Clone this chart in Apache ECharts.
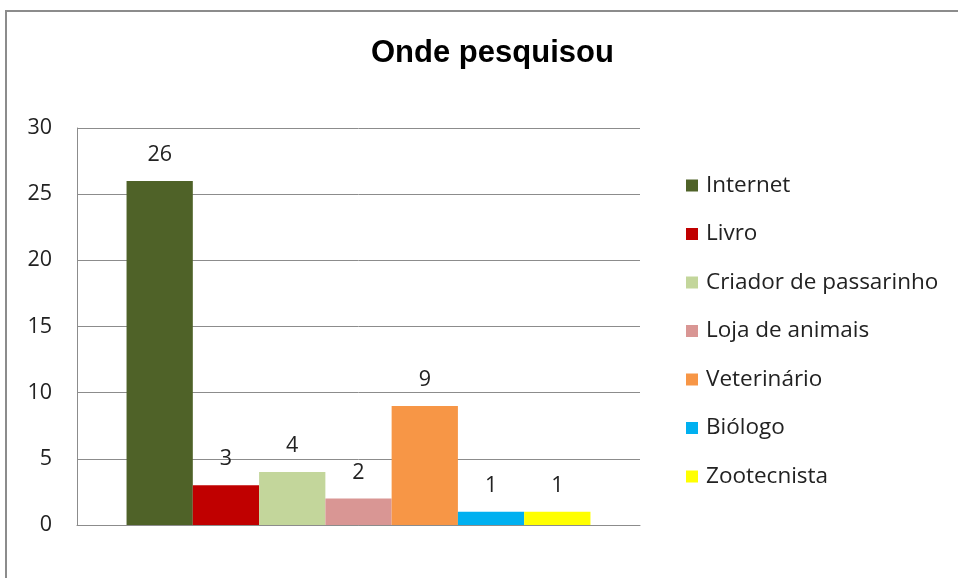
<!DOCTYPE html>
<html>
<head>
<meta charset="utf-8">
<script src="https://cdn.jsdelivr.net/npm/echarts@6/dist/echarts.min.js"></script>
<style>
  html, body { margin: 0; padding: 0; background: #fff; }
  #chart { width: 958px; height: 578px; }
</style>
</head>
<body>
<div id="chart"></div>
<script>
// data
const seriesNames = ['Internet', 'Livro', 'Criador de passarinho', 'Loja de animais', 'Veterinário', 'Biólogo', 'Zootecnista'];
const seriesValues = [26, 3, 4, 2, 9, 1, 1];
const seriesColors = ['#4F6228', '#C00000', '#C3D69B', '#D99694', '#F79646', '#00B0F0', '#FFFF00'];
const yTicks = [0, 5, 10, 15, 20, 25, 30];

const font = '"Open Sans", Lato, sans-serif';

let series = seriesNames.map((name, i) => ({
  name: name,
  type: 'bar',
  data: [seriesValues[i]],
  barGap: '0%',
  barCategoryGap: '17.6%',
  itemStyle: { color: seriesColors[i] },
  label: {
    show: true,
    position: 'top',
    distance: 15,
    color: '#222',
    fontFamily: font,
    fontSize: 21.5
  }
}));

let option = {
  animation: false,
  backgroundColor: '#fff',
  title: {
    text: 'Onde pesquisou',
    left: 366,
    top: 33,
    textStyle: { fontFamily: '"Liberation Sans", Arial, sans-serif', fontSize: 31, fontWeight: 'bold', color: '#000' }
  },
  graphic: [{
    type: 'rect',
    shape: { x: 6, y: 11, width: 1000, height: 600 },
    style: { fill: 'none', stroke: '#8c8c8c', lineWidth: 2 },
    silent: true
  }],
  legend: {
    orient: 'vertical',
    left: 681,
    top: 169,
    itemWidth: 12,
    itemHeight: 12,
    itemGap: 25.5,
    icon: 'rect',
    data: seriesNames,
    textStyle: { fontFamily: font, fontSize: 22.5, color: '#222', padding: [0, 0, 0, 3] }
  },
  grid: { left: 77, top: 128, right: 318, bottom: 53, containLabel: false },
  xAxis: {
    type: 'category',
    data: [''],
    axisLine: { show: true, lineStyle: { color: '#8c8c8c', width: 1 } },
    axisTick: { show: false },
    axisLabel: { show: false }
  },
  yAxis: {
    type: 'value',
    min: yTicks[0],
    max: yTicks[yTicks.length - 1],
    interval: 5,
    axisLine: { show: true, lineStyle: { color: '#8c8c8c', width: 1 } },
    axisTick: { show: false },
    splitLine: { lineStyle: { color: '#8c8c8c', width: 1 } },
    axisLabel: { fontFamily: font, fontSize: 21.5, color: '#222', margin: 25 }
  },
  series: series
};

let myChart = echarts.init(document.getElementById('chart'));
myChart.setOption(option);
</script>
</body>
</html>
